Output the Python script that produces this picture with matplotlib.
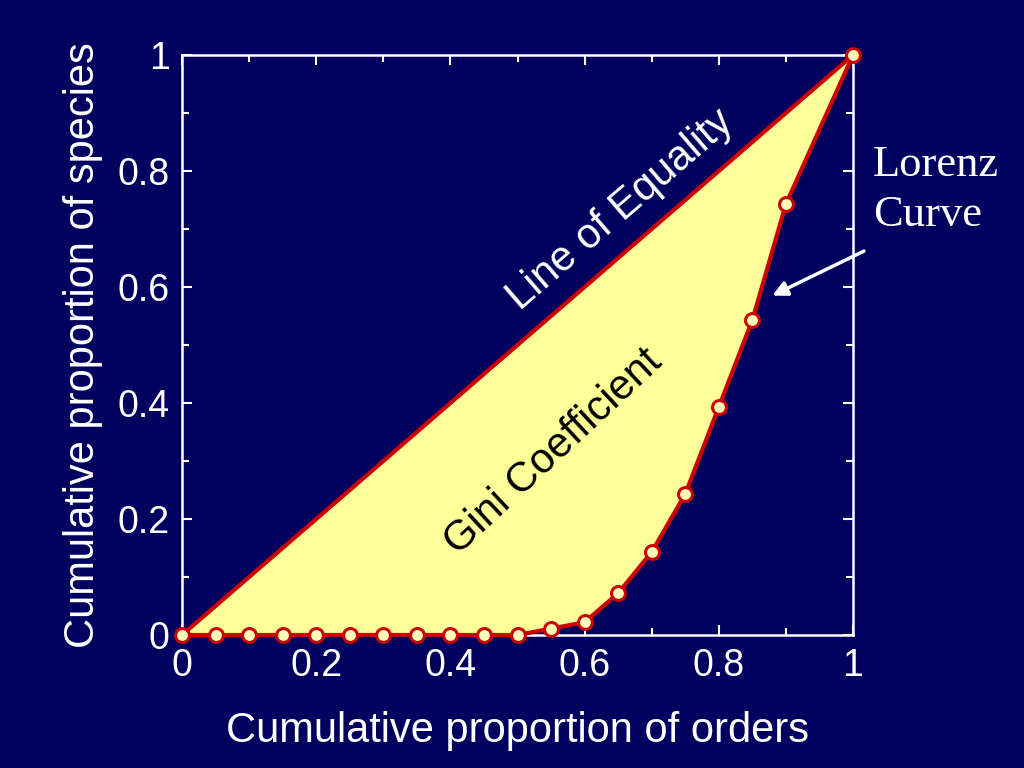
import matplotlib
matplotlib.use("Agg")
import matplotlib.pyplot as plt
from matplotlib.ticker import MultipleLocator

x_orders = [0, 0.05, 0.10, 0.15, 0.20, 0.25, 0.30, 0.35, 0.40, 0.45, 0.50,
            0.55, 0.60, 0.65, 0.70, 0.75, 0.80, 0.85, 0.90, 1.0]
y_species = [0, 0, 0, 0, 0, 0, 0, 0, 0, 0, 0,
             0.011, 0.022, 0.072, 0.143, 0.243, 0.393, 0.543, 0.743, 1.0]
equality = [0, 1]
xticks = [0, 0.2, 0.4, 0.6, 0.8, 1]
tick_labels = ["0", "0.2", "0.4", "0.6", "0.8", "1"]

bg = "#00005E"
red = "#CC0000"
yellow = "#FFFF99"

plt.rcParams['font.family'] = ['Liberation Sans', 'DejaVu Sans']
fig = plt.figure(figsize=(10.24, 7.68), dpi=100, facecolor=bg)
ax = fig.add_axes([182/1024, 1-635/768, 671/1024, 580/768])
ax.set_facecolor(bg)

ax.fill_between(x_orders, x_orders, y_species, color=yellow, zorder=1, linewidth=0)
ax.plot(equality, equality, color=red, lw=3, zorder=2)
ax.plot(x_orders, y_species, color=red, lw=3, zorder=3,
        marker='o', markersize=10, markerfacecolor="#FFFFBB",
        markeredgecolor=red, markeredgewidth=2.2, clip_on=False)

ax.set_xlim(0, 1)
ax.set_ylim(0, 1)
ax.set_xticks(xticks)
ax.set_xticklabels(tick_labels)
ax.set_yticks(xticks)
ax.set_yticklabels(tick_labels)
ax.xaxis.set_minor_locator(MultipleLocator(0.1))
ax.yaxis.set_minor_locator(MultipleLocator(0.1))
ax.tick_params(which='both', direction='in', color='white', top=True, right=True,
               labelsize=27, labelcolor='white', width=1.5)
ax.tick_params(which='major', length=7, pad=9)
ax.tick_params(which='minor', length=5)
for s in ax.spines.values():
    s.set_color('white')
    s.set_linewidth(1.8)

ax.set_xlabel("Cumulative proportion of orders", fontsize=30, color='white', labelpad=20)
ax.set_ylabel("Cumulative proportion of species", fontsize=30, color='white', labelpad=10)

ax.text(0.653, 0.733, "Line of Equality", rotation=40.8, fontsize=30, color='white',
        ha='center', va='center', rotation_mode='anchor')
ax.text(0.553, 0.315, "Gini Coefficient", rotation=43, fontsize=30, color='black',
        ha='center', va='center', rotation_mode='anchor')

ax.annotate("", xy=(0.876, 0.583), xytext=(1.02, 0.664), xycoords='data',
            arrowprops=dict(arrowstyle='-|>', color='white', lw=2.5, mutation_scale=22),
            annotation_clip=False)
fig.text(873/1024, 1-190/768, "Lorenz\nCurve", fontsize=32, color='white',
         family='Liberation Serif', ha='left', va='center', linespacing=1.35)

fig.savefig("out.png", dpi=100, facecolor=bg)
